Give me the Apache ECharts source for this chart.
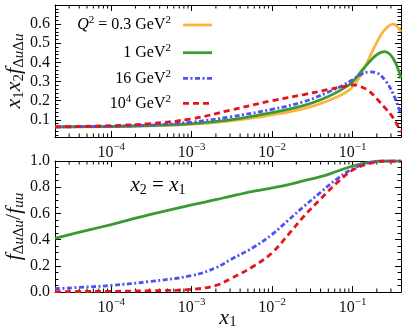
<!DOCTYPE html>
<html>
<head>
<meta charset="utf-8">
<script src="https://cdn.jsdelivr.net/npm/echarts@6/dist/echarts.min.js"></script>
<style>
  html, body { margin: 0; padding: 0; background: #fff; }
  #main { width: 407px; height: 332px; }
</style>
</head>
<body>
<div id="main"></div>
<script>
// top panel: x1 x2 f_{ΔuΔu}
var xTop = [2e-5, 1e-4, 3e-4, 1e-3, 3e-3, 0.01, 0.025, 0.05, 0.08, 0.1, 0.125, 0.16, 0.2, 0.25, 0.32, 0.4];
var topQ03 = [0.063, 0.064, 0.068, 0.076, 0.094, 0.126, 0.158, 0.2, 0.24, 0.272, 0.33, 0.42, 0.505, 0.57, 0.6, 0.56];
var topQ1 = [0.063, 0.065, 0.07, 0.08, 0.1, 0.138, 0.175, 0.222, 0.268, 0.298, 0.348, 0.4, 0.44, 0.456, 0.42, 0.317];
var topQ16 = [0.063, 0.066, 0.072, 0.088, 0.115, 0.155, 0.195, 0.245, 0.285, 0.31, 0.335, 0.35, 0.345, 0.31, 0.235, 0.125];
var topQ1e4 = [0.063, 0.069, 0.08, 0.105, 0.15, 0.2, 0.232, 0.258, 0.275, 0.282, 0.274, 0.25, 0.21, 0.165, 0.11, 0.035];

// bottom panel: ratio f_{ΔuΔu}/f_{uu}, x2 = x1
var xBot = [2e-5, 5e-5, 1e-4, 3e-4, 1e-3, 2e-3, 3e-3, 6e-3, 0.01, 0.016, 0.025, 0.04, 0.063, 0.1, 0.16, 0.25, 0.4];
var botQ1 = [0.41, 0.47, 0.515, 0.59, 0.665, 0.705, 0.73, 0.77, 0.795, 0.82, 0.85, 0.88, 0.92, 0.962, 0.99, 1.0, 1.0];
var botQ16 = [0.025, 0.038, 0.05, 0.08, 0.125, 0.185, 0.245, 0.345, 0.44, 0.55, 0.655, 0.76, 0.86, 0.94, 0.985, 1.0, 1.0];
var botQ1e4 = [0.003, 0.004, 0.005, 0.01, 0.02, 0.05, 0.1, 0.2, 0.3, 0.44, 0.58, 0.71, 0.83, 0.93, 0.98, 1.0, 1.0];

var legendLabels = [
  '{i|Q}{sup|2}{n| = 0.3 GeV}{sup|2}',
  '{n|1 GeV}{sup|2}',
  '{n|16 GeV}{sup|2}',
  '{n|10}{sup|4}{n| GeV}{sup|2}'
];

var X_MIN = 2e-5, X_MAX = 0.4;
var FONT = 'Liberation Serif';
var C_ORANGE = '#fdb43e', C_GREEN = '#3a9a33', C_BLUE = '#5050f5', C_RED = '#e5141a';

function pairs(xs, ys) {
  return xs.map(function (x, i) { return [x, ys[i]]; });
}

// minor ticks 2..9 x 10^k inside the x range
var minorX = [];
[1e-5, 1e-4, 1e-3, 1e-2, 1e-1].forEach(function (d) {
  for (var m = 2; m <= 9; m++) {
    var v = m * d;
    if (v > X_MIN * 1.0001 && v < X_MAX * 0.9999) minorX.push([v, 0.5]);
  }
});

var chart = echarts.init(document.getElementById('main'));

var richText = {
  n: { fontFamily: FONT, fontSize: 16, lineHeight: 20, color: '#111' },
  i: { fontFamily: FONT, fontStyle: 'italic', fontSize: 16, lineHeight: 20, color: '#111' },
  sup: { fontFamily: FONT, fontSize: 11, lineHeight: 11, verticalAlign: 'top', color: '#111' }
};

function xAxisOpt(grid, pos, labels, name) {
  return {
    type: 'log', logBase: 10, gridIndex: grid, position: pos, min: X_MIN, max: X_MAX,
    name: name || '', nameLocation: 'middle', nameGap: 14, nameMoveOverlap: false,
    nameTextStyle: {
      rich: {
        i: { fontFamily: FONT, fontStyle: 'italic', fontSize: 22, lineHeight: 24, color: '#111' },
        s: { fontFamily: FONT, fontSize: 15, lineHeight: 14, verticalAlign: 'bottom', color: '#111' }
      }
    },
    axisLine: { show: true, onZero: false, lineStyle: { color: '#000', width: 1 } },
    axisTick: { show: true, inside: true, length: 6, lineStyle: { color: '#000' } },
    splitLine: { show: false },
    axisLabel: {
      show: labels, margin: 5,
      formatter: function (v) {
        var lg = Math.log10(v), e = Math.round(lg);
        if (Math.abs(lg - e) > 1e-6) return '';
        return '{b|10}{s|−' + (-e) + '}';
      },
      rich: {
        b: { fontFamily: FONT, fontSize: 16, lineHeight: 22, color: '#111' },
        s: { fontFamily: FONT, fontSize: 11, lineHeight: 11, verticalAlign: 'top', color: '#111' }
      }
    }
  };
}

function yAxisOpt(grid, pos, labels, min, max, minorSplit, name, nameRich) {
  return {
    type: 'value', gridIndex: grid, position: pos, min: min, max: max,
    minInterval: grid === 0 ? 0.1 : 0.2, maxInterval: grid === 0 ? 0.1 : 0.2, splitNumber: 7,
    name: name || '', nameLocation: 'middle', nameRotate: 90, nameGap: 28, nameMoveOverlap: false,
    nameTextStyle: { rich: nameRich || {} },
    axisLine: { show: true, onZero: false, lineStyle: { color: '#000', width: 1 } },
    axisTick: { show: true, inside: true, length: 6, lineStyle: { color: '#000' } },
    minorTick: { show: true, splitNumber: minorSplit, length: 3.5, lineStyle: { color: '#000' } },
    splitLine: { show: false },
    axisLabel: {
      show: labels, margin: 5, fontFamily: FONT, fontSize: 16, color: '#111',
      formatter: function (v) {
        if (grid === 0 && (v < 0.05 || v > 0.65)) return '';
        return v.toFixed(1);
      }
    }
  };
}

var nameRich = {
  i: { fontFamily: FONT, fontStyle: 'italic', fontSize: 22, lineHeight: 26, color: '#111' },
  n: { fontFamily: FONT, fontSize: 22, lineHeight: 26, color: '#111' },
  s: { fontFamily: FONT, fontSize: 15, lineHeight: 15, verticalAlign: 'bottom', color: '#111' },
  si: { fontFamily: FONT, fontStyle: 'italic', fontSize: 15, lineHeight: 15, verticalAlign: 'bottom', color: '#111' }
};

function minorTicks(params, api) {
  var cs = params.coordSys;
  var px = api.coord([api.value(0), api.value(1)])[0];
  var len = 3.5;
  return {
    type: 'group',
    children: [
      { type: 'line', shape: { x1: px, y1: cs.y + cs.height, x2: px, y2: cs.y + cs.height - len }, style: { stroke: '#000', lineWidth: 1 } },
      { type: 'line', shape: { x1: px, y1: cs.y, x2: px, y2: cs.y + len }, style: { stroke: '#000', lineWidth: 1 } }
    ]
  };
}

function lineSeries(xi, yi, data, color, dash) {
  return {
    type: 'line', xAxisIndex: xi, yAxisIndex: yi, data: data, showSymbol: false,
    smooth: 0.4, clip: true, silent: true,
    lineStyle: { color: color, width: 2.8, type: dash || 'solid' }
  };
}

var legendColors = [C_ORANGE, C_GREEN, C_BLUE, C_RED];
var legendDash = ['solid', 'solid', [5, 2.5, 2, 2.5], [6, 4]];
var legendY = [25, 52.7, 78.3, 103.3];
var graphics = [];
legendLabels.forEach(function (t, i) {
  graphics.push({
    type: 'text', x: 171, y: legendY[i],
    style: { text: t, rich: richText, align: 'right', verticalAlign: 'middle' }
  });
  graphics.push({
    type: 'line', shape: { x1: 183, y1: legendY[i], x2: 212, y2: legendY[i] },
    style: { stroke: legendColors[i], lineWidth: 2.8, lineDash: legendDash[i] === 'solid' ? null : legendDash[i] }
  });
});
graphics.push({
  type: 'text', x: 158, y: 185,
  style: {
    text: '{i|x}{s|2}{n| = }{i|x}{s|1}', align: 'center', verticalAlign: 'middle',
    rich: {
      i: { fontFamily: FONT, fontStyle: 'italic', fontSize: 21, lineHeight: 24, color: '#111' },
      n: { fontFamily: FONT, fontSize: 21, lineHeight: 24, color: '#111' },
      s: { fontFamily: FONT, fontSize: 14, lineHeight: 13, verticalAlign: 'bottom', color: '#111' }
    }
  }
});

chart.setOption({
  animation: false,
  backgroundColor: '#fff',
  grid: [
    { left: 55, top: 5, width: 346, height: 132, outerBoundsMode: 'none' },
    { left: 55, top: 161, width: 346, height: 131, outerBoundsMode: 'none' }
  ],
  xAxis: [
    xAxisOpt(0, 'bottom', true),
    xAxisOpt(0, 'top', false),
    xAxisOpt(1, 'bottom', true, '{i|x}{s|1}'),
    xAxisOpt(1, 'top', false)
  ],
  yAxis: [
    yAxisOpt(0, 'left', true, 0.01, 0.7, 5, '{i|x}{s|1}{i|x}{s|2}{i|f}{s|Δ}{si|u}{s|Δ}{si|u}', nameRich),
    yAxisOpt(0, 'right', false, 0.01, 0.7, 5),
    yAxisOpt(1, 'left', true, 0, 1, 4, '{i|f}{s|Δ}{si|u}{s|Δ}{si|u}{n|/}{i|f}{si|uu}', nameRich),
    yAxisOpt(1, 'right', false, 0, 1, 4)
  ],
  graphic: graphics,
  series: [
    lineSeries(0, 0, pairs(xTop, topQ03), C_ORANGE),
    lineSeries(0, 0, pairs(xTop, topQ1), C_GREEN),
    lineSeries(0, 0, pairs(xTop, topQ16), C_BLUE, [5, 2.5, 2, 2.5]),
    lineSeries(0, 0, pairs(xTop, topQ1e4), C_RED, [6, 4]),
    lineSeries(2, 2, pairs(xBot, botQ1), C_GREEN),
    lineSeries(2, 2, pairs(xBot, botQ16), C_BLUE, [5, 2.5, 2, 2.5]),
    lineSeries(2, 2, pairs(xBot, botQ1e4), C_RED, [6, 4]),
    { type: 'custom', xAxisIndex: 0, yAxisIndex: 0, data: minorX, renderItem: minorTicks, silent: true, clip: false },
    { type: 'custom', xAxisIndex: 2, yAxisIndex: 2, data: minorX, renderItem: minorTicks, silent: true, clip: false }
  ]
});
</script>
</body>
</html>
